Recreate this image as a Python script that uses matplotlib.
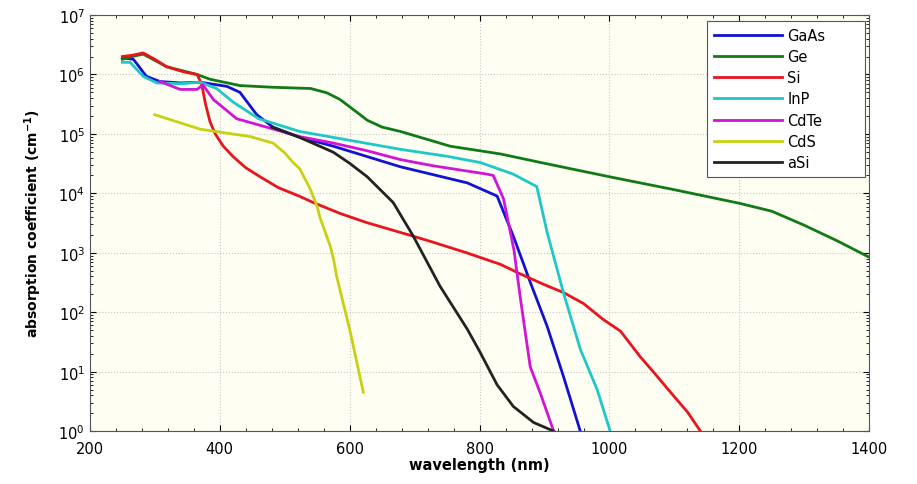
import matplotlib
matplotlib.use("Agg")
import matplotlib.pyplot as plt
from matplotlib.ticker import MultipleLocator, FixedLocator, NullFormatter

# wavelength (nm) and absorption coefficient (cm^-1)
gaas_x = [250, 267, 287, 308, 340, 370, 411, 431, 457, 482, 520, 575, 678, 781, 827, 852, 878, 904, 929, 955]
gaas_y = [1.9e6, 1.8e6, 9.3e5, 7.6e5, 7.2e5, 7.4e5, 6.3e5, 5e5, 2.1e5, 1.3e5, 9e4, 6.2e4, 2.8e4, 1.5e4, 9e3, 1.9e3, 320, 58, 8.4, 1]

ge_x = [250, 265, 282, 318, 365, 385, 431, 480, 540, 565, 585, 605, 627, 650, 678, 755, 832, 900, 1000, 1100, 1200, 1250, 1300, 1350, 1400]
ge_y = [1.8e6, 2.0e6, 2.2e6, 1.35e6, 1.0e6, 8.3e5, 6.5e5, 6.1e5, 5.8e5, 4.9e5, 3.8e5, 2.6e5, 1.7e5, 1.3e5, 1.1e5, 6.2e4, 4.6e4, 3.2e4, 1.9e4, 1.15e4, 6.8e3, 5e3, 2.9e3, 1.6e3, 8.4e2]

si_x = [250, 265, 282, 300, 318, 345, 365, 372, 378, 385, 393, 405, 420, 440, 462, 490, 523, 544, 585, 627, 698, 729, 780, 832, 863, 900, 929, 960, 990, 1017, 1047, 1068, 1094, 1120, 1140]
si_y = [2.0e6, 2.1e6, 2.3e6, 1.8e6, 1.35e6, 1.1e6, 1.0e6, 7e5, 3.2e5, 1.6e5, 1.0e5, 6.3e4, 4.2e4, 2.7e4, 1.9e4, 1.25e4, 8.9e3, 7e3, 4.6e3, 3.2e3, 1.9e3, 1.5e3, 1.0e3, 640, 440, 290, 215, 140, 76, 48, 18, 9.8, 4.5, 2.1, 1]

inp_x = [250, 262, 282, 303, 340, 370, 395, 421, 460, 523, 600, 678, 750, 801, 852, 888, 904, 929, 955, 981, 1001]
inp_y = [1.6e6, 1.6e6, 9.3e5, 7.2e5, 7.0e5, 7.4e5, 5.8e5, 3.4e5, 1.8e5, 1.1e5, 7.8e4, 5.5e4, 4.2e4, 3.3e4, 2.1e4, 1.3e4, 2.2e3, 215, 24, 5, 1]

cdte_x = [308, 339, 365, 374, 390, 426, 472, 523, 575, 627, 678, 729, 812, 821, 837, 853, 863, 878, 893, 914]
cdte_y = [7.6e5, 5.6e5, 5.6e5, 6.7e5, 3.8e5, 1.8e5, 1.3e5, 9e4, 7e4, 5.2e4, 3.7e4, 2.9e4, 2.1e4, 2.0e4, 8e3, 1.1e3, 166, 12, 4.5, 1]

cds_x = [300, 370, 447, 482, 500, 513, 523, 539, 550, 554, 570, 575, 580, 601, 621]
cds_y = [2.1e5, 1.2e5, 9e4, 7e4, 4.8e4, 3.3e4, 2.6e4, 1.2e4, 6e3, 4e3, 1.3e3, 800, 400, 46, 4.5]

asi_x = [480, 520, 554, 575, 600, 627, 667, 698, 739, 781, 801, 827, 852, 883, 914]
asi_y = [1.3e5, 9e4, 6.2e4, 4.9e4, 3.2e4, 1.9e4, 7e3, 1.9e3, 275, 52, 21, 6, 2.6, 1.4, 1]

y_ticks = [1, 10, 100, 1e3, 1e4, 1e5, 1e6, 1e7]

series = [
    ("GaAs", gaas_x, gaas_y, "#1212d2"),
    ("Ge", ge_x, ge_y, "#127a14"),
    ("Si", si_x, si_y, "#e8141e"),
    ("InP", inp_x, inp_y, "#1ec8c8"),
    ("CdTe", cdte_x, cdte_y, "#d214d8"),
    ("CdS", cds_x, cds_y, "#c8d012"),
    ("aSi", asi_x, asi_y, "#222222"),
]

fig = plt.figure(figsize=(9.17, 4.85), dpi=100)
ax = fig.add_axes([0.098, 0.109, 0.85, 0.858])
ax.set_facecolor("#fffef3")

for name, xs, ys, c in series:
    ax.plot(xs, ys, color=c, lw=2.0, label=name)

ax.set_yscale("log")
ax.set_xlim(200, 1400)
ax.set_ylim(1, 1e7)
ax.xaxis.set_major_locator(MultipleLocator(200))
ax.xaxis.set_minor_locator(MultipleLocator(40))
ax.yaxis.set_major_locator(FixedLocator(y_ticks))
minor = [m * t for t in y_ticks[:-1] for m in range(2, 10)]
ax.yaxis.set_minor_locator(FixedLocator(minor))
ax.yaxis.set_minor_formatter(NullFormatter())
ax.tick_params(which="both", direction="in", top=True, right=True, labelsize=10.5)
ax.tick_params(which="major", length=4)
ax.tick_params(which="minor", length=2)
ax.tick_params(axis="x", which="major", pad=7)
ax.grid(True, which="major", linestyle=":", color="#c8c8c8", lw=0.8)
for s in ax.spines.values():
    s.set_color("#555555")

ax.set_xlabel("wavelength (nm)", fontweight="bold", fontsize=10.5, labelpad=1)
ax.set_ylabel("absorption coefficient (cm$^{\\mathbf{-1}}$)", fontweight="bold", fontsize=10, labelpad=10)

leg = ax.legend(loc="upper left", fontsize=10.5, handlelength=4.6, handletextpad=0.4,
                frameon=True, fancybox=False, edgecolor="#555555", framealpha=1,
                borderpad=0.5, labelspacing=0.42, mode="expand", borderaxespad=0,
                bbox_to_anchor=(0.792, 0.5, 0.203, 0.486))
leg.get_frame().set_linewidth(0.8)

fig.savefig("out.png", dpi=100, facecolor="white")
